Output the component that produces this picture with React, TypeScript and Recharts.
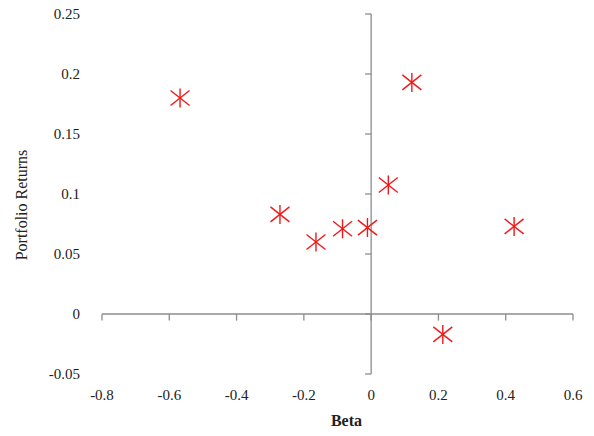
import {
    ScatterChart,
    Scatter,
    XAxis,
    YAxis,
    ReferenceLine,
} from "recharts";

const betas = [-0.568, 0.121, 0.051, -0.271, -0.164, -0.085, -0.011, 0.425, 0.213];
const returns = [0.18, 0.193, 0.1075, 0.083, 0.06, 0.071, 0.072, 0.073, -0.017];
const xTicks = [-0.8, -0.6, -0.4, -0.2, 0, 0.2, 0.4, 0.6];
const yTicks = [-0.05, 0, 0.05, 0.1, 0.15, 0.2, 0.25];

const points = betas.map((b, i) => ({ beta: b, ret: returns[i] }));

const AXIS = "#8c8c8c";
const FONT = "Liberation Serif, Times New Roman, DejaVu Serif, serif";

/* eslint-disable @typescript-eslint/no-explicit-any */
const Star = ({ cx, cy }: any) => {
    if (cx == null || cy == null) return null;
    const r = 9.5;
    const d = 7.5;
    return (
        <g stroke="#f01818" strokeWidth={1.4} fill="none">
            <line x1={cx} y1={cy - r} x2={cx} y2={cy + r} />
            <line x1={cx - d - 2} y1={cy - d} x2={cx + d + 2} y2={cy + d} />
            <line x1={cx - d - 2} y1={cy + d} x2={cx + d + 2} y2={cy - d} />
        </g>
    );
};

const XTick = ({ x, y, payload }: any) => (
    <text
        x={x}
        y={y + 24}
        textAnchor="middle"
        fontFamily={FONT}
        fontSize={15}
        fill="#222"
    >
        {String(Number(payload.value.toFixed(1)))}
    </text>
);

const YTick = ({ x, y, payload }: any) => (
    <text
        x={x - 20}
        y={y + 5}
        textAnchor="end"
        fontFamily={FONT}
        fontSize={15}
        fill="#222"
    >
        {String(Number(payload.value.toFixed(2)))}
    </text>
);

const YLabel = ({ viewBox }: any) => {
    const x = viewBox.x + 21;
    const y = viewBox.y + viewBox.height / 2 + 11;
    return (
        <text
            x={x}
            y={y}
            transform={`rotate(-90, ${x}, ${y})`}
            textAnchor="middle"
            dominantBaseline="central"
            fontFamily={FONT}
            fontSize={16}
            fill="#222"
        >
            Portfolio Returns
        </text>
    );
};

const XLabel = ({ viewBox }: any) => {
    const x = viewBox.x + viewBox.width / 2 + 9;
    return (
        <text
            x={x}
            y={viewBox.y + 46}
            textAnchor="middle"
            dominantBaseline="central"
            fontFamily={FONT}
            fontSize={16}
            fontWeight="bold"
            fill="#222"
        >
            Beta
        </text>
    );
};

export default function App() {
    return (
        <div style={{ position: "absolute", left: 0, top: 0, background: "#fff" }}>
            <ScatterChart
                width={594}
                height={436}
                margin={{ top: 14, right: 21, left: 0, bottom: 0 }}
            >
                <XAxis
                    type="number"
                    dataKey="beta"
                    domain={[-0.8, 0.6]}
                    ticks={xTicks}
                    axisLine={false}
                    tickLine={false}
                    tickSize={0}
                    tick={<XTick />}
                    height={62}
                    allowDataOverflow
                    label={<XLabel />}
                />
                <YAxis
                    type="number"
                    dataKey="ret"
                    domain={[-0.05, 0.25]}
                    ticks={yTicks}
                    axisLine={false}
                    tickLine={false}
                    tickSize={0}
                    tick={<YTick />}
                    width={102}
                    allowDataOverflow
                    label={<YLabel />}
                />
                {/* axes crossing at origin */}
                <ReferenceLine x={0} stroke={AXIS} strokeWidth={1.3} />
                <ReferenceLine y={0} stroke={AXIS} strokeWidth={1.3} />
                {yTicks.map((t) => (
                    <ReferenceLine
                        key={"y" + t}
                        segment={[{ x: -0.018, y: t }, { x: 0, y: t }]}
                        stroke={AXIS}
                        strokeWidth={1.3}
                    />
                ))}
                {xTicks.map((t) => (
                    <ReferenceLine
                        key={"x" + t}
                        segment={[{ x: t, y: 0 }, { x: t, y: -0.0055 }]}
                        stroke={AXIS}
                        strokeWidth={1.3}
                    />
                ))}
                <Scatter data={points} shape={<Star />} isAnimationActive={false} />
            </ScatterChart>
        </div>
    );
}
